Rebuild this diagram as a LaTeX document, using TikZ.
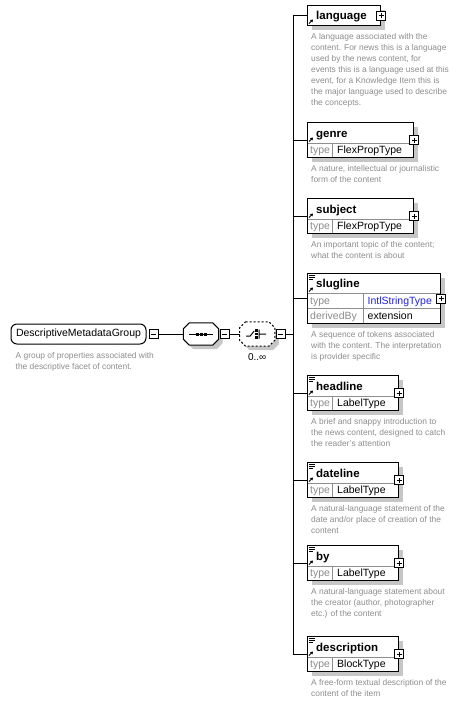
\documentclass[tikz,border=0pt]{standalone}
\usepackage{fontspec}
\setmainfont{Liberation Sans}
\usetikzlibrary{arrows.meta, positioning, shadows, backgrounds}
\definecolor{xsdnote}{HTML}{8C8C8C}
\definecolor{xsdshade}{HTML}{C6C6C6}
\definecolor{xsdgrid}{HTML}{8E8E8E}
\definecolor{xsdtype}{HTML}{2222E6}
\tikzset{
  xsd shadow/.style={drop shadow={shadow xshift=4pt, shadow yshift=-4pt, fill=xsdshade, opacity=1}},
  pmbox/.style={draw, fill=white, line width=0.8pt, minimum size=9pt, inner sep=0pt},
  % minus / plus toggles next to the compositor and element boxes
  minusbox/.style={pmbox, path picture={\draw[line width=0.8pt]
      ([xshift=2pt]path picture bounding box.west) -- ([xshift=-2pt]path picture bounding box.east);}},
  plusbox/.style={pmbox, path picture={\draw[line width=0.8pt]
      ([xshift=2pt]path picture bounding box.west) -- ([xshift=-2pt]path picture bounding box.east)
      ([yshift=2pt]path picture bounding box.south) -- ([yshift=-2pt]path picture bounding box.north);}},
  % octagon outline round an (invisible) compositor node
  octo/.style={insert path={([xshift=6pt]#1.north west) -- ([xshift=-6pt]#1.north east)
      -- ([yshift=-6pt]#1.north east) -- ([yshift=6pt]#1.south east) -- ([xshift=-6pt]#1.south east)
      -- ([xshift=6pt]#1.south west) -- ([yshift=6pt]#1.south west) -- ([yshift=-6pt]#1.north west) -- cycle}},
  pics/refmark/.style={code={\draw[line width=1pt, -{Triangle[length=2.6pt, width=3.2pt]}] (0,0) -- (4,-4);}},
  pics/docmark/.style={code={\draw[line width=0.8pt] (0,2.5) -- (6,2.5) (0,4.5) -- (6,4.5) (0,6.5) -- (4,6.5);}},
}
\begin{document}
\begin{tikzpicture}[
    x=1pt, y=-1pt,
    wire/.style={line width=1pt},
    grid/.style={draw=xsdgrid, line width=0.8pt},
    groupbox/.style={draw, line width=1pt, rounded corners=6pt, minimum width=135, minimum height=20,
                     inner sep=0pt, font=\fontsize{10.5}{12}\selectfont},
    seqbox/.style={minimum width=35, minimum height=22, inner sep=0pt},
    elbox/.style={draw, fill=white, line width=1pt, anchor=north west, inner sep=0pt, xsd shadow},
    elname/.style={anchor=base west, inner sep=0pt, font=\fontsize{11.5}{13}\selectfont\bfseries},
    typekey/.style={anchor=base west, inner sep=0pt, text=xsdnote, font=\fontsize{10.5}{12}\selectfont},
    typeval/.style={anchor=base west, inner sep=0pt, font=\fontsize{10.5}{12}\selectfont},
    note/.style={inner sep=0pt, align=left, text=xsdnote, font=\fontsize{8.4}{11}\selectfont},
    occurs/.style={inner sep=0pt, font=\fontsize{10}{12}\selectfont},
]
\useasboundingbox (0,0) rectangle (476,705);

% group and its compositors
\node[groupbox] (group) at (78.5,334) {DescriptiveMetadataGroup};
\node[minusbox, right=2pt of group] (groupminus) {};
\node[note, below right=8pt and 5pt of group.south west] (groupnote)
   {A group of properties associated with\\the descriptive facet of content.};

\node[seqbox, right=25pt of groupminus] (seq) {};
\node[minusbox, right=1pt of seq] (seqminus) {};
\node[seqbox, minimum height=24, right=10pt of seqminus] (choice) {};
\node[minusbox, right=1pt of choice] (choiceminus) {};
\node[occurs, below=7pt of choice] (choiceoccurs) {0..∞};

\begin{pgfonlayer}{background}
  \foreach \n in {seq, choice}
    \fill[xsdshade, transform canvas={shift={(4pt,-4pt)}}, octo=\n];
\end{pgfonlayer}
\draw[wire, fill=white, octo=seq];
\draw[wire, fill=white, dash pattern=on 2pt off 2pt, octo=choice];

\draw[wire] ([xshift=6pt]seq.west) -- ([xshift=-6pt]seq.east);
\foreach \d in {-4,0,4} \fill ([xshift=\d pt]seq.center) ++(-1.5,-1.5) rectangle ++(3,3);
\draw[wire, shift={(choice.center)}] (-11,2) -- (-7,2) -- (-3,-3) (2,-4.5) -- (2,4.5) (2,0) -- (9,0);
\foreach \d in {-3.5,0,3.5} \fill[shift={(choice.center)}] (-1.8,\d-1.2) rectangle (0.6,\d+1.2);

\draw[wire] (groupminus) -- (seq);
\draw[wire] (seqminus) -- (choice);
\coordinate (bus) at (293,0);
\draw[wire] (choiceminus) -- (choiceminus -| bus);

% language
\node[elbox, minimum width=73, minimum height=20] (language) at (307,5) {};
\node[plusbox] (languageplus) at (language.east) {};
\pic at (309,23.5) {refmark};
\node[elname] (languagename) at (316,19) {language};
\node[note, below right=7pt and 4pt of language.south west] (languagenote)
   {A language associated with the\\content. For news this is a language\\used by the news content, for\\events this is a language used at this\\event, for a Knowledge Item this is\\the major language used to describe\\the concepts.};

% genre
\node[elbox, minimum width=106, minimum height=35] (genre) at (307,122) {};
\draw[grid] (307.5,143) -- (412.5,143) (332,143) -- (332,156.5);
\node[plusbox] (genreplus) at (genre.east) {};
\pic at (309,141.5) {refmark};
\node[elname] (genrename) at (316,137) {genre};
\node[typekey] (genrekey) at (310,153) {type};
\node[typeval] (genretype) at (337,153) {FlexPropType};
\node[note, below right=7pt and 4pt of genre.south west] (genrenote)
   {A nature, intellectual or journalistic\\form of the content};

% subject
\node[elbox, minimum width=106, minimum height=35] (subject) at (307,198) {};
\draw[grid] (307.5,219) -- (412.5,219) (332,219) -- (332,232.5);
\node[plusbox] (subjectplus) at (subject.east) {};
\pic at (309,217.5) {refmark};
\node[elname] (subjectname) at (316,213) {subject};
\node[typekey] (subjectkey) at (310,229) {type};
\node[typeval] (subjecttype) at (337,229) {FlexPropType};
\node[note, below right=7pt and 4pt of subject.south west] (subjectnote)
   {An important topic of the content;\\what the content is about};

% slugline
\node[elbox, minimum width=133, minimum height=50] (slugline) at (307,273) {};
\draw[grid] (307.5,293) -- (439.5,293) (307.5,308) -- (439.5,308) (363,293) -- (363,322.5);
\node[plusbox] (sluglineplus) at (slugline.east) {};
\pic at (309,273) {docmark};
\pic at (309,291.5) {refmark};
\node[elname] (sluglinename) at (316,287) {slugline};
\node[typekey] (sluglinekey) at (310,304) {type};
\node[typeval, text=xsdtype] (sluglinetype) at (367.5,304) {IntlStringType};
\node[typekey] (sluglinedkey) at (310,319) {derivedBy};
\node[typeval] (sluglinederived) at (367.5,319) {extension};
\node[note, below right=7pt and 4pt of slugline.south west] (sluglinenote)
   {A sequence of tokens associated\\with the content. The interpretation\\is provider specific};

% headline
\node[elbox, minimum width=91, minimum height=35] (headline) at (307,375) {};
\draw[grid] (307.5,396) -- (397.5,396) (332,396) -- (332,409.5);
\node[plusbox] (headlineplus) at (headline.east) {};
\pic at (309,375) {docmark};
\pic at (309,394.5) {refmark};
\node[elname] (headlinename) at (316,390) {headline};
\node[typekey] (headlinekey) at (310,406) {type};
\node[typeval] (headlinetype) at (337,406) {LabelType};
\node[note, below right=7pt and 4pt of headline.south west] (headlinenote)
   {A brief and snappy introduction to\\the news content, designed to catch\\the reader's attention};

% dateline
\node[elbox, minimum width=91, minimum height=35] (dateline) at (307,462) {};
\draw[grid] (307.5,483) -- (397.5,483) (332,483) -- (332,496.5);
\node[plusbox] (datelineplus) at (dateline.east) {};
\pic at (309,462) {docmark};
\pic at (309,481.5) {refmark};
\node[elname] (datelinename) at (316,477) {dateline};
\node[typekey] (datelinekey) at (310,493) {type};
\node[typeval] (datelinetype) at (337,493) {LabelType};
\node[note, below right=7pt and 4pt of dateline.south west] (datelinenote)
   {A natural-language statement of the\\date and/or place of creation of the\\content};

% by
\node[elbox, minimum width=91, minimum height=35] (by) at (307,545) {};
\draw[grid] (307.5,566) -- (397.5,566) (332,566) -- (332,579.5);
\node[plusbox] (byplus) at (by.east) {};
\pic at (309,545) {docmark};
\pic at (309,564.5) {refmark};
\node[elname] (byname) at (316,560) {by};
\node[typekey] (bykey) at (310,576) {type};
\node[typeval] (bytype) at (337,576) {LabelType};
\node[note, below right=7pt and 4pt of by.south west] (bynote)
   {A natural-language statement about\\the creator (author, photographer\\etc.) of the content};

% description
\node[elbox, minimum width=91, minimum height=35] (description) at (307,636) {};
\draw[grid] (307.5,657) -- (397.5,657) (332,657) -- (332,670.5);
\node[plusbox] (descriptionplus) at (description.east) {};
\pic at (309,636) {docmark};
\pic at (309,655.5) {refmark};
\node[elname] (descriptionname) at (316,651) {description};
\node[typekey] (descriptionkey) at (310,667) {type};
\node[typeval] (descriptiontype) at (337,667) {BlockType};
\node[note, below right=7pt and 4pt of description.south west] (descriptionnote)
   {A free-form textual description of the\\content of the item};

% choice branches
\draw[wire] (bus |- language.west) -- (bus |- description.west);
\foreach \el in {language, genre, subject, slugline, headline, dateline, by, description}
  \draw[wire] (bus |- \el.west) -- (\el.west);

\end{tikzpicture}
\end{document}
